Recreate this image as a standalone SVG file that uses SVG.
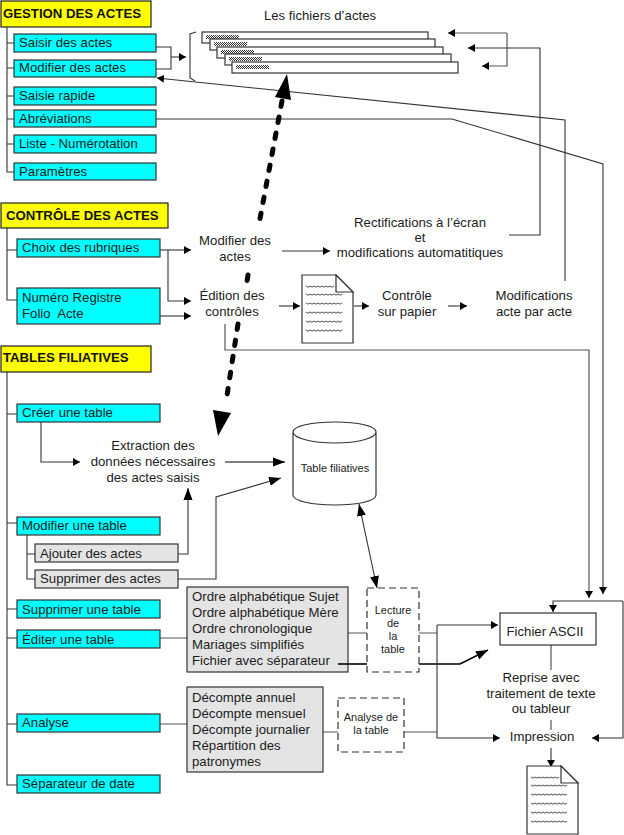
<svg xmlns="http://www.w3.org/2000/svg" xmlns:xlink="http://www.w3.org/1999/xlink" width="624" height="835" viewBox="0 0 624 835">
<style>
text{font-family:"Liberation Sans",Arial,sans-serif;font-size:13.2px;fill:#1c1c1c}
.c{text-anchor:middle}
.s{font-size:11px}
.h{font-weight:bold;font-size:13.2px;fill:#111}
.head{fill:#ffff00;stroke:#222;stroke-width:1.2}
.cy{fill:#00ffff;stroke:#333;stroke-width:1.2}
.gr{fill:#e4e4e4;stroke:#333;stroke-width:1.2}
.dash{fill:#fff;stroke:#333;stroke-width:1.2;stroke-dasharray:7 4}
.w{fill:#fff;stroke:#333;stroke-width:1.2}
.l{fill:none;stroke:#333;stroke-width:1.1}
.g{fill:none;stroke:#555;stroke-width:1.2}
.a{marker-end:url(#ar)}
.wave{fill:none;stroke:#222;stroke-width:.8}
</style>
<defs>
<marker id="ar" markerUnits="userSpaceOnUse" markerWidth="9" markerHeight="9" refX="7" refY="4.5" orient="auto"><path d="M0 0.5L7 4.5L0 8.5z" fill="#000"/></marker>
<marker id="big" markerUnits="userSpaceOnUse" markerWidth="14" markerHeight="12" refX="12" refY="5" orient="auto-start-reverse"><path d="M0 0.5L12 5L0 9.5z" fill="#000"/></marker>
<pattern id="hatch" width="2" height="2" patternUnits="userSpaceOnUse"><rect width="2" height="2" fill="#fff"/><rect width="1" height="1" fill="#333"/><rect x="1" y="1" width="1" height="1" fill="#333"/></pattern>
<g id="doc">
<path class="w" d="M0 0H34L51 17V68H0z"/><path class="w" d="M34 0L51 17L34 17z"/>
<path class="wave" d="M4 11l2 1.2 2-1.2 2 1.2 2-1.2 2 1.2 2-1.2 2 1.2 2-1.2 2 1.2 2-1.2 2 1.2 2-1.2 2 1.2 2-1.2M4 19l2 1.2 2-1.2 2 1.2 2-1.2 2 1.2 2-1.2 2 1.2 2-1.2 2 1.2 2-1.2 2 1.2 2-1.2 2 1.2 2-1.2 2 1.2 2-1.2 2 1.2 2-1.2M4 28l2 1.2 2-1.2 2 1.2 2-1.2 2 1.2 2-1.2 2 1.2 2-1.2 2 1.2 2-1.2 2 1.2 2-1.2 2 1.2 2-1.2 2 1.2 2-1.2 2 1.2 2-1.2M4 37l2 1.2 2-1.2 2 1.2 2-1.2 2 1.2 2-1.2 2 1.2 2-1.2 2 1.2 2-1.2 2 1.2 2-1.2 2 1.2 2-1.2 2 1.2 2-1.2 2 1.2 2-1.2M4 46l2 1.2 2-1.2 2 1.2 2-1.2 2 1.2 2-1.2 2 1.2 2-1.2 2 1.2 2-1.2 2 1.2 2-1.2 2 1.2 2-1.2 2 1.2 2-1.2 2 1.2 2-1.2M4 55l2 1.2 2-1.2 2 1.2 2-1.2 2 1.2 2-1.2 2 1.2 2-1.2 2 1.2 2-1.2 2 1.2 2-1.2 2 1.2 2-1.2 2 1.2 2-1.2 2 1.2 2-1.2"/>
</g>
</defs>
<rect width="624" height="835" fill="#fff"/>

<g id="connectors">
<path class="l" d="M7 27V172H14M7 43H14M7 68H14M7 96H14M7 119H14M7 144H14"/>
<path class="l" d="M7 228V300H17M7 250H17"/>
<path class="l" d="M7 372V785H17M7 414H17M7 523H17M7 609H17M7 638H17M7 724H17"/>
<path class="l" d="M156 47H171V69H156"/><path class="l a" d="M171 57H186"/>
<path class="l a" d="M565 281V120L157 78"/>
<path class="l a" d="M156 119H452L603 164V594"/>
<path class="l a" d="M509 235H540V48H468"/>
<path class="g a" d="M507 33V66H482"/><path class="g a" d="M507 33H448"/>
<path class="l a" d="M160 250H191"/><path class="l a" d="M168 250V301H191"/><path class="l a" d="M160 316H191"/>
<path class="l a" d="M282 251H330"/><path class="l a" d="M279 306H300"/><path class="l a" d="M354 306H369"/><path class="l a" d="M448 306H467"/>
<path class="g a" d="M225 324V350H589V598"/>
<path class="l a" d="M623 601H553V612"/>
<path class="l a" d="M623 601V738H592"/>
<path d="M282 101L259 224M248 275L246 288M238 324L226 402" fill="none" stroke="#000" stroke-width="5" stroke-linecap="round" stroke-dasharray="5.5 10.8"/>
<path d="M287 74L275 97L291 100z" fill="#000"/><path d="M218 436L213 410L231 413z" fill="#000"/>
<path class="l a" d="M41 422V462H80"/>
<path d="M225 462H285" class="g" style="stroke-width:1.6" marker-end="url(#big)"/>
<path class="l" d="M178 579H216V497L281 478" marker-end="url(#big)"/>
<path class="l" d="M178 554H188V488" marker-end="url(#big)"/>
<path class="l" d="M27 535V579H35M27 554H35"/>
<path class="l" d="M359 504L377 588" marker-start="url(#big)" marker-end="url(#big)"/>
<path class="g" d="M160 638H187M160 724H187M348 633H367M419 633H437M323 732H338M404 732H437"/>
<path d="M338 664H367" fill="none" stroke="#000" stroke-width="1.6"/>
<path d="M419 664H460L488 650" fill="none" stroke="#000" stroke-width="1.6" marker-end="url(#big)"/>
<path class="l a" d="M437 625H498"/><path class="l a" d="M437 625V738H500"/>
<path class="g" d="M551 645V670M551 720V730"/><path class="l a" d="M551 748V767"/>
</g>

<g id="gestion"><rect class="head" x="1" y="1" width="150" height="26"/><text class="h" x="3" y="18">GESTION DES ACTES</text></g>
<g id="saisir"><rect class="cy" x="14" y="34" width="142" height="18"/><text x="19" y="47">Saisir des actes</text></g>
<g id="modifier"><rect class="cy" x="14" y="60" width="142" height="17"/><text x="19" y="72">Modifier des actes</text></g>
<g id="rapide"><rect class="cy" x="14" y="87" width="142" height="18"/><text x="19" y="100">Saisie rapide</text></g>
<g id="abrev"><rect class="cy" x="14" y="110" width="142" height="17"/><text x="19" y="123">Abréviations</text></g>
<g id="liste"><rect class="cy" x="14" y="135" width="142" height="18"/><text x="19" y="148">Liste - Numérotation</text></g>
<g id="param"><rect class="cy" x="14" y="163" width="142" height="17"/><text x="19" y="176">Paramètres</text></g>

<g id="fichiers">
<text class="c" x="320" y="20">Les fichiers d’actes</text>
<path class="l" d="M196 32L190 34V78L195 81"/>
<rect class="w" x="202" y="32" width="226" height="11"/><rect x="206" y="35" width="33" height="4" fill="url(#hatch)"/>
<rect class="w" x="210" y="39" width="225" height="11"/><rect x="214" y="42" width="33" height="4" fill="url(#hatch)"/>
<rect class="w" x="217" y="47" width="226" height="11"/><rect x="221" y="50" width="33" height="4" fill="url(#hatch)"/>
<rect class="w" x="225" y="54" width="226" height="11"/><rect x="229" y="57" width="33" height="4" fill="url(#hatch)"/>
<rect class="w" x="232" y="62" width="226" height="11"/><rect x="236" y="65" width="33" height="4" fill="url(#hatch)"/>
</g>

<g id="controle"><rect class="head" x="1" y="203" width="167" height="25"/><text class="h" x="6" y="220">CONTRÔLE DES ACTES</text></g>
<g id="choix"><rect class="cy" x="17" y="239" width="143" height="18"/><text x="22" y="252">Choix des rubriques</text></g>
<g id="numero"><rect class="cy" x="17" y="288" width="143" height="36"/><text x="22" y="302">Numéro Registre</text><text x="22" y="318" xml:space="preserve">Folio  Acte</text></g>
<g id="modif2"><text class="c" x="235" y="245">Modifier des</text><text class="c" x="235" y="261">actes</text></g>
<g id="edition"><text class="c" x="232" y="300">Édition des</text><text class="c" x="232" y="316">contrôles</text></g>
<g id="rectif"><text class="c" x="420" y="227">Rectifications à l’écran</text><text class="c" x="420" y="242">et</text><text class="c" x="420" y="257">modifications automatitiques</text></g>
<g id="doc1"><use href="#doc" xlink:href="#doc" x="302" y="275"/></g>
<g id="controlep"><text class="c" x="407" y="300">Contrôle</text><text class="c" x="407" y="316">sur papier</text></g>
<g id="modifs"><text class="c" x="534" y="300">Modifications</text><text class="c" x="534" y="316">acte par acte</text></g>

<g id="tables"><rect class="head" x="1" y="346" width="150" height="26"/><text class="h" x="3" y="362">TABLES FILIATIVES</text></g>
<g id="creer"><rect class="cy" x="17" y="404" width="143" height="18"/><text x="22" y="417">Créer une table</text></g>
<g id="extraction"><text class="c" x="153" y="450">Extraction des</text><text class="c" x="153" y="466">données nécessaires</text><text class="c" x="153" y="482">des actes saisis</text></g>
<g id="cylindre"><path class="w" d="M293 432V495C293 501 312 505 335 505S376 501 376 495V432C376 426 358 422 335 422S293 426 293 432C293 438 312 443 335 443S376 438 376 432"/><text class="c s" x="335" y="472">Table filiatives</text></g>
<g id="modtable"><rect class="cy" x="17" y="517" width="143" height="18"/><text x="22" y="530">Modifier une table</text></g>
<g id="ajouter"><rect class="gr" x="35" y="544" width="143" height="18"/><text x="40" y="558">Ajouter des actes</text></g>
<g id="supprimer"><rect class="gr" x="35" y="570" width="143" height="18"/><text x="40" y="583">Supprimer des actes</text></g>
<g id="supptable"><rect class="cy" x="17" y="600" width="143" height="18"/><text x="22" y="614">Supprimer une table</text></g>
<g id="editer"><rect class="cy" x="17" y="630" width="143" height="18"/><text x="22" y="644">Éditer une table</text></g>
<g id="analyse"><rect class="cy" x="17" y="714" width="143" height="18"/><text x="22" y="727">Analyse</text></g>
<g id="separateur"><rect class="cy" x="17" y="775" width="143" height="18"/><text x="22" y="788">Séparateur de date</text></g>
<g id="ordres"><rect class="gr" x="187" y="587" width="161" height="85"/><text x="192" y="601">Ordre alphabétique Sujet</text><text x="192" y="617">Ordre alphabétique Mère</text><text x="192" y="633">Ordre chronologique</text><text x="192" y="649">Mariages simplifiés</text><text x="192" y="665">Fichier avec séparateur</text></g>
<path d="M338 664H348" fill="none" stroke="#000" stroke-width="1.6"/>
<g id="decomptes"><rect class="gr" x="187" y="687" width="136" height="85"/><text x="192" y="702">Décompte annuel</text><text x="192" y="718">Décompte mensuel</text><text x="192" y="734">Décompte journalier</text><text x="192" y="750">Répartition des</text><text x="192" y="766">patronymes</text></g>
<g id="lecture"><rect class="dash" x="367" y="588" width="52" height="84"/><text class="c s" x="393" y="614">Lecture</text><text class="c s" x="393" y="627">de</text><text class="c s" x="393" y="640">la</text><text class="c s" x="393" y="653">table</text></g>
<g id="analysetable"><rect class="dash" x="338" y="698" width="66" height="54"/><text class="c s" x="371" y="721">Analyse de</text><text class="c s" x="371" y="734">la table</text></g>
<g id="ascii"><rect class="w" x="500" y="613" width="96" height="32"/><text class="c" x="545" y="636">Fichier ASCII</text></g>
<g id="reprise"><text class="c" x="541" y="682">Reprise avec</text><text class="c" x="541" y="698">traitement de texte</text><text class="c" x="541" y="713">ou tableur</text></g>
<g id="impression"><text class="c" x="542" y="741">Impression</text></g>
<g id="doc2"><use href="#doc" xlink:href="#doc" x="527" y="766"/></g>
</svg>
